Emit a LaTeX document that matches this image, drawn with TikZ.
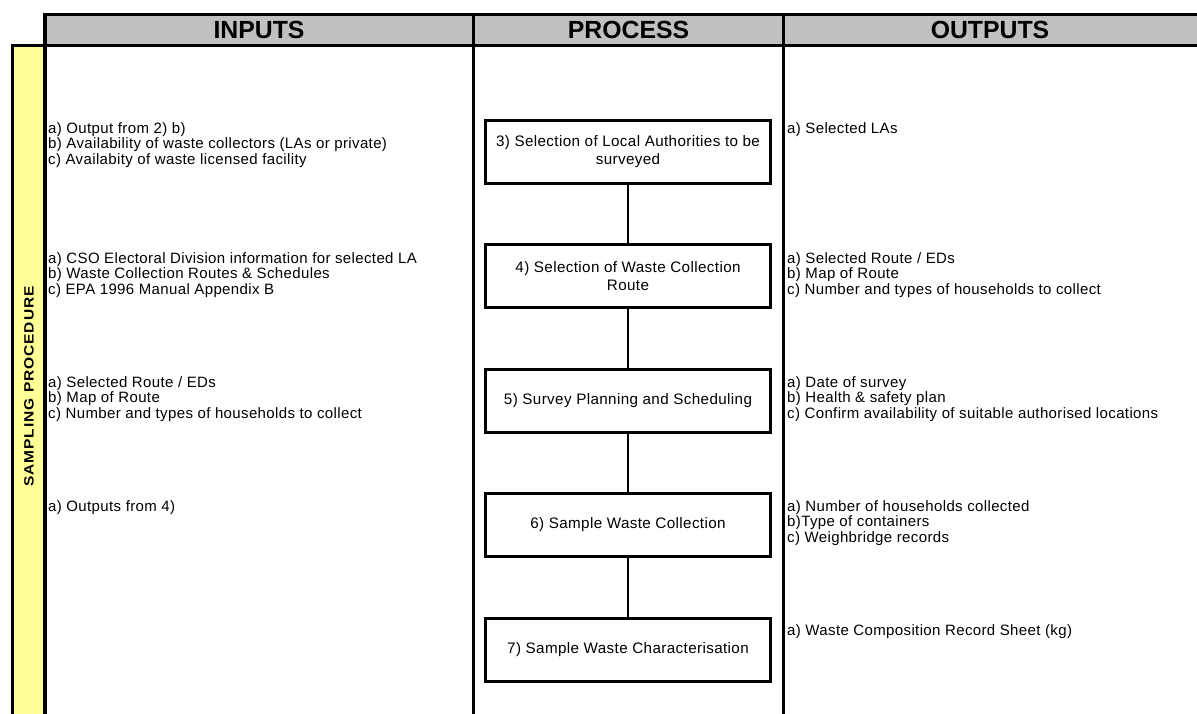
\documentclass[tikz,border=0pt]{standalone}
\usepackage{fontspec}
\setmainfont{Liberation Sans}
\newfontfamily\spacedfont[LetterSpace=2.5]{Liberation Sans}
\newfontfamily\sidefont[LetterSpace=6]{Liberation Sans}
\definecolor{hdrgray}{HTML}{C0C0C0}
\definecolor{sideyellow}{HTML}{FFFF99}
\begin{document}
\begin{tikzpicture}[x=1pt,y=-1pt,
  thick border/.style={line width=3.5pt},
  hdrtext/.style={font=\fontsize{24.8}{28}\selectfont\bfseries, inner sep=0pt},
  sidetext/.style={font=\sidefont\fontsize{13.5}{14}\selectfont\bfseries, rotate=90, inner sep=0pt},
  listtext/.style={font=\spacedfont\fontsize{15}{15.5}\selectfont, align=left, anchor=north west, inner sep=0pt},
  procbox/.style={draw, line width=3pt, minimum width=285pt, minimum height=63pt, align=center, font=\spacedfont\fontsize{15.2}{18}\selectfont, inner sep=2pt},
  link/.style={line width=1.3pt}
]
\useasboundingbox (0,0) rectangle (1197,713);
% header band
\fill[hdrgray] (45,14.5) rectangle (1200,45.5);
\draw[thick border] (45,12.8) -- (45,45.5);
\draw[thick border] (45,14.5) -- (1200,14.5);
\draw[thick border] (45,45.5) -- (1200,45.5);
% side yellow band
\fill[sideyellow] (12.5,45.5) rectangle (45,716);
\draw[thick border] (12.5,716) -- (12.5,45.5) -- (45,45.5);
\draw[thick border] (45,45.5) -- (45,716);
% column dividers
\draw[thick border] (473.5,12.8) -- (473.5,716);
\draw[thick border] (783.5,12.8) -- (783.5,716);
% headers
\node[hdrtext] (hin) at (259,30) {INPUTS};
\node[hdrtext] (hpr) at (628.5,30) {PROCESS};
\node[hdrtext] (hout) at (990,30) {OUTPUTS};
\node[sidetext] (side) at (29,386.5) {\scalebox{1.15}[1]{SAMPLING PROCEDURE}};
% process boxes
\node[procbox] (p3) at (628,151.5) {3) Selection of Local Authorities to be\\surveyed};
\node[procbox] (p4) at (628,276) {4) Selection of Waste Collection\\Route};
\node[procbox] (p5) at (628,400.5) {5) Survey Planning and Scheduling};
\node[procbox] (p6) at (628,525) {6) Sample Waste Collection};
\node[procbox] (p7) at (628,649.5) {7) Sample Waste Characterisation};
\draw[link] (p3.south) -- (p4.north);
\draw[link] (p4.south) -- (p5.north);
\draw[link] (p5.south) -- (p6.north);
\draw[link] (p6.south) -- (p7.north);
% inputs
\node[listtext] (in3) at (48,122) {a) Output from 2) b)\\b) Availability of waste collectors (LAs or private)\\c) Availabity of waste licensed facility};
\node[listtext] (in4) at (48,252) {a) CSO Electoral Division information for selected LA\\b) Waste Collection Routes \& Schedules\\c) EPA 1996 Manual Appendix B};
\node[listtext] (in5) at (48,376) {a) Selected Route / EDs\\b) Map of Route\\c) Number and types of households to collect};
\node[listtext] (in6) at (48,500) {a) Outputs from 4)};
% outputs
\node[listtext] (out3) at (787,122) {a) Selected LAs};
\node[listtext] (out4) at (787,252) {a) Selected Route / EDs\\b) Map of Route\\c) Number and types of households to collect};
\node[listtext] (out5) at (787,376) {a) Date of survey\\b) Health \& safety plan\\c) Confirm availability of suitable authorised locations};
\node[listtext] (out6) at (787,500) {a) Number of households collected\\b)Type of containers\\c) Weighbridge records};
\node[listtext] (out7) at (787,624) {a) Waste Composition Record Sheet (kg)};
\end{tikzpicture}
\end{document}
